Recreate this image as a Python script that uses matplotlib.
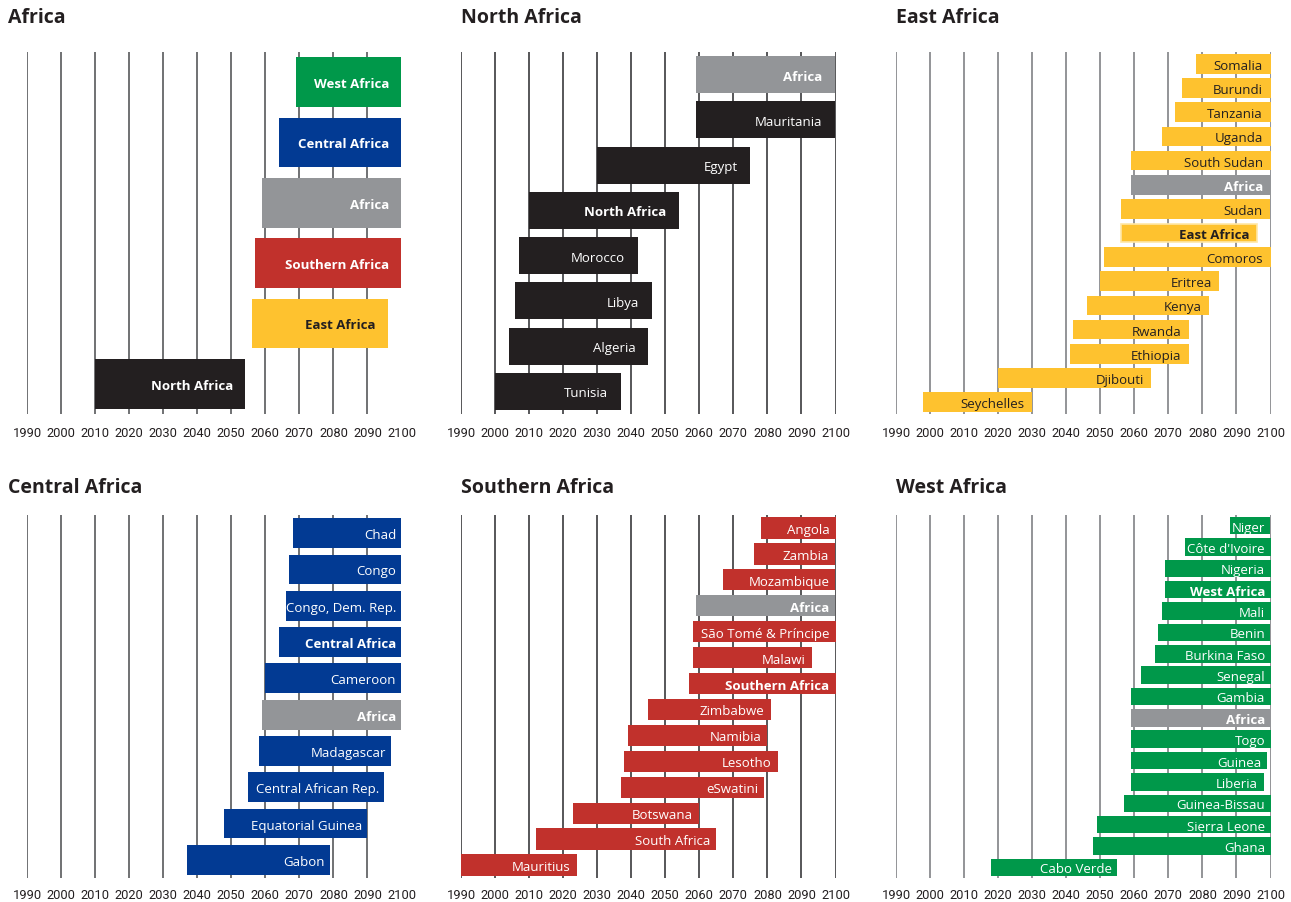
import numpy as np
import matplotlib.pyplot as plt

plt.rcParams['font.family'] = ['Roboto', 'DejaVu Sans']

years = [1990, 2000, 2010, 2020, 2030, 2040, 2050, 2060, 2070, 2080, 2090, 2100]

# Africa overview
africa_names = ['West Africa', 'Central Africa', 'Africa', 'Southern Africa', 'East Africa', 'North Africa']
africa_start = [2069, 2064, 2059, 2057, 2056, 2010]
africa_end = [2100, 2100, 2100, 2100, 2096, 2054]

# North Africa
north_names = ['Africa', 'Mauritania', 'Egypt', 'North Africa', 'Morocco', 'Libya', 'Algeria', 'Tunisia']
north_start = [2059, 2059, 2030, 2010, 2007, 2006, 2004, 2000]
north_end = [2100, 2100, 2075, 2054, 2042, 2046, 2045, 2037]

# East Africa
east_names = ['Somalia', 'Burundi', 'Tanzania', 'Uganda', 'South Sudan', 'Africa', 'Sudan',
              'East Africa', 'Comoros', 'Eritrea', 'Kenya', 'Rwanda', 'Ethiopia', 'Djibouti',
              'Seychelles']
east_start = [2078, 2074, 2072, 2068, 2059, 2059, 2056, 2056, 2051, 2050, 2046, 2042, 2041, 2020, 1998]
east_end = [2100, 2100, 2100, 2100, 2100, 2100, 2100, 2096, 2100, 2085, 2082, 2076, 2076, 2065, 2030]

# Central Africa
central_names = ['Chad', 'Congo', 'Congo, Dem. Rep.', 'Central Africa', 'Cameroon', 'Africa',
                 'Madagascar', 'Central African Rep.', 'Equatorial Guinea', 'Gabon']
central_start = [2068, 2067, 2066, 2064, 2060, 2059, 2058, 2055, 2048, 2037]
central_end = [2100, 2100, 2100, 2100, 2100, 2100, 2097, 2095, 2090, 2079]

# Southern Africa
south_names = ['Angola', 'Zambia', 'Mozambique', 'Africa', 'São Tomé & Príncipe', 'Malawi',
               'Southern Africa', 'Zimbabwe', 'Namibia', 'Lesotho', 'eSwatini', 'Botswana',
               'South Africa', 'Mauritius']
south_start = [2078, 2076, 2067, 2059, 2058, 2058, 2057, 2045, 2039, 2038, 2037, 2023, 2012, 1990]
south_end = [2100, 2100, 2100, 2100, 2100, 2093, 2100, 2081, 2080, 2083, 2079, 2060, 2065, 2024]

# West Africa
west_names = ['Niger', "Côte d'Ivoire", 'Nigeria', 'West Africa', 'Mali', 'Benin', 'Burkina Faso',
              'Senegal', 'Gambia', 'Africa', 'Togo', 'Guinea', 'Liberia', 'Guinea-Bissau',
              'Sierra Leone', 'Ghana', 'Cabo Verde']
west_start = [2088, 2075, 2069, 2069, 2068, 2067, 2066, 2062, 2059, 2059, 2059, 2059, 2059, 2057,
              2049, 2048, 2018]
west_end = [2100, 2100, 2100, 2100, 2100, 2100, 2100, 2100, 2100, 2100, 2100, 2099, 2098, 2100,
            2100, 2100, 2055]

colors = {
    'West Africa': '#00984a',
    'Central Africa': '#023a93',
    'Africa': '#939598',
    'Southern Africa': '#c1312c',
    'East Africa': '#fec22f',
    'North Africa': '#231f20',
}
dark = '#231f20'
label_font = ['Open Sans', 'DejaVu Sans']

W, H = 1291, 903
fig = plt.figure(figsize=(W / 100, H / 100), dpi=100)

panels = [
    # title, names, start, end, colour, title x, axes left, top, bottom (px), label pad (years), grid colour
    ('Africa', africa_names, africa_start, africa_end, None, 8, 27, 53, 415, 3.5, '#58595b'),
    ('North Africa', north_names, north_start, north_end, colors['North Africa'], 461, 461, 53, 415, 3.8, '#3a3a3c'),
    ('East Africa', east_names, east_start, east_end, colors['East Africa'], 896, 896, 53, 415, 2.2, '#808285'),
    ('Central Africa', central_names, central_start, central_end, colors['Central Africa'], 8, 27, 516, 879, 1.6, '#58595b'),
    ('Southern Africa', south_names, south_start, south_end, colors['Southern Africa'], 461, 461, 516, 879, 1.8, '#3a3a3c'),
    ('West Africa', west_names, west_start, west_end, colors['West Africa'], 896, 896, 516, 879, 1.6, '#808285'),
]

width_px = 374.5

for title, names, start, end, color, tx, left, top, bottom, pad, gcol in panels:
    ax = fig.add_axes([left / W, 1 - bottom / H, width_px / W, (bottom - top) / H])
    n = len(names)
    y = np.arange(n)

    for yr in years:
        ax.axvline(yr, color=gcol, lw=1.2, zorder=1)

    s = np.array(start)
    e = np.array(end)
    for i, name in enumerate(names):
        if color is None:
            fc = colors[name]
        elif name == 'Africa':
            fc = colors['Africa']
        else:
            fc = color
        bold = name == 'Africa' or name == title or (color is None)
        if title == 'East Africa' and name == 'East Africa':
            ax.barh(y[i], e[i] - s[i], left=s[i], height=0.72, color=fc,
                    edgecolor='#ffe7a6', lw=1.2, zorder=2)
        else:
            ax.barh(y[i], e[i] - s[i], left=s[i], height=0.82, color=fc, lw=0, zorder=2)
        tcol = dark if fc == colors['East Africa'] else 'white'
        ax.text(e[i] - pad, y[i], name, ha='right', va='center_baseline', color=tcol,
                fontsize=9.5, family=label_font,
                fontweight='bold' if bold else 'normal', zorder=3)

    ax.set_xlim(1990, 2100)
    ax.set_ylim(n - 0.5, -0.5)
    ax.set_xticks(years)
    ax.set_xticklabels([str(v) for v in years])
    ax.set_yticks([])
    ax.tick_params(axis='x', length=0, labelsize=9.3, labelcolor=dark,
                   pad=8.5 if top < 100 else 7.5)
    for sp in ax.spines.values():
        sp.set_visible(False)

    fig.text(tx / W, 1 - (top - 30 if top < 100 else top - 23) / H, title, fontsize=14,
             fontweight='bold', family=label_font, color=dark, ha='left', va='baseline')

fig.savefig('out.png', dpi=100)
